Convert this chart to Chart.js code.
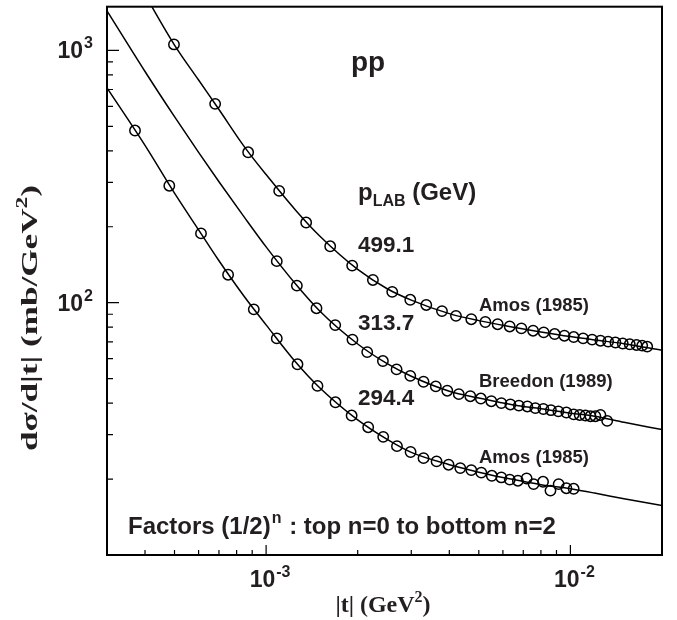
<!DOCTYPE html>
<html>
<head>
<meta charset="utf-8">
<script src="https://cdn.jsdelivr.net/npm/chart.js@4/dist/chart.umd.min.js"></script>
<style>
  html, body { margin: 0; padding: 0; background: #fff; }
</style>
</head>
<body>
<canvas id="myChart" width="677" height="620"></canvas>
<script>
// measured points, |t| in GeV^2 and dsigma/d|t| in mb/GeV^2 (already scaled by (1/2)^n)
var tAmos499 = [4.98e-4, 6.80e-4, 8.73e-4, 1.104e-3, 1.354e-3, 1.624e-3, 1.918e-3, 2.244e-3, 2.597e-3, 2.977e-3,
  3.360e-3, 3.784e-3, 4.207e-3, 4.724e-3, 5.253e-3, 5.767e-3, 6.317e-3, 6.902e-3, 7.541e-3, 8.171e-3,
  8.878e-3, 9.557e-3, 1.0254e-2, 1.1010e-2, 1.1788e-2, 1.2553e-2, 1.3305e-2, 1.4061e-2, 1.4859e-2, 1.5668e-2,
  1.6486e-2, 1.7214e-2, 1.7880e-2];
var dsAmos499 = [1056, 614, 394.6, 277.4, 207.8, 167.3, 140.3, 123.1, 110.4, 102.7,
  97.95, 92.6, 88.7, 86.0, 83.85, 82.2, 80.5, 79.1, 77.45, 76.3,
  75.1, 74.0, 73.1, 72.2, 71.4, 70.7, 70.1, 69.5, 68.9, 68.4,
  68.0, 67.6, 67.0];

var tBreedon = [1.084e-3, 1.262e-3, 1.464e-3, 1.687e-3, 1.922e-3, 2.149e-3, 2.420e-3, 2.684e-3, 2.977e-3, 3.291e-3,
  3.611e-3, 3.939e-3, 4.298e-3, 4.689e-3, 5.078e-3, 5.498e-3, 5.93e-3, 6.35e-3, 6.77e-3, 7.22e-3,
  7.67e-3, 8.15e-3, 8.63e-3, 9.13e-3, 9.70e-3, 1.025e-2, 1.073e-2, 1.120e-2, 1.164e-2, 1.208e-2,
  1.255e-2, 1.321e-2];
var dsBreedon = [146.1, 116.9, 95.1, 81.5, 71.4, 63.7, 58.7, 54.4, 51.3, 48.6,
  46.6, 44.8, 43.4, 42.6, 41.7, 40.7, 40.0, 39.5, 39.1, 38.8,
  38.2, 37.9, 37.5, 37.1, 36.7, 36.1, 35.9, 35.7, 35.5, 35.5,
  35.9, 34.0];

var tAmos294 = [3.708e-4, 4.807e-4, 6.11e-4, 7.50e-4, 9.11e-4, 1.084e-3, 1.268e-3, 1.475e-3, 1.690e-3, 1.910e-3,
  2.165e-3, 2.426e-3, 2.692e-3, 2.984e-3, 3.291e-3, 3.633e-3, 3.978e-3, 4.346e-3, 4.724e-3, 5.096e-3,
  5.518e-3, 5.93e-3, 6.32e-3, 6.72e-3, 7.18e-3, 7.57e-3, 8.13e-3, 8.60e-3, 9.15e-3, 9.70e-3,
  1.025e-2];
var dsAmos294 = [481.3, 290.9, 188.2, 129.1, 94.1, 72.2, 57.0, 46.8, 40.3, 35.7,
  32.1, 29.4, 27.0, 25.6, 24.2, 23.5, 22.8, 22.1, 21.7, 21.2,
  20.6, 20.3, 19.9, 19.7, 20.1, 19.1, 19.5, 18.0, 19.1, 18.4,
  18.3];

// fitted curves
var fitT = [3e-4, 4e-4, 5e-4, 6e-4, 7e-4, 8.5e-4, 1e-3, 1.25e-3, 1.5e-3, 2e-3,
  2.5e-3, 3e-3, 4e-3, 5e-3, 6.5e-3, 8e-3, 1e-2, 1.2e-2, 1.5e-2, 2e-2];
var fit499 = [3000, 1660, 1050, 763, 583, 413.7, 322, 232.7, 183.9, 135.5,
  113.6, 102.4, 90.5, 84.9, 80.0, 76.6, 73.4, 71.2, 68.8, 64.8];
var fit313 = [1435, 825, 546, 394, 301.5, 217.3, 166.4, 118.5, 92.7, 68.6,
  57.3, 51.1, 44.6, 41.9, 39.3, 38.0, 36.5, 35.5, 33.6, 31.4];
var fit294 = [710, 420, 271.6, 194.3, 146.6, 105.3, 81.7, 58.2, 46.0, 34.3,
  28.7, 25.5, 22.8, 21.3, 19.9, 19.0, 18.3, 17.6, 16.7, 15.7];

// axes
var xMajor = [1e-3, 1e-2];
var xMajorExp = ['-3', '-2'];
var xMinor = [4e-4, 5e-4, 6e-4, 7e-4, 8e-4, 9e-4, 2e-3, 3e-3, 4e-3, 5e-3, 6e-3, 7e-3, 8e-3, 9e-3];
var yMajor = [100, 1000];
var yMajorExp = ['2', '3'];
var yMinor = [20, 30, 40, 50, 60, 70, 80, 90, 200, 300, 400, 500, 600, 700, 800, 900];

var ink = '#231f20';
var sans = '"Liberation Sans", Arial, sans-serif';
var serif = '"Liberation Serif", "Times New Roman", serif';

function pairs(xs, ys) {
  return xs.map(function (x, i) { return { x: x, y: ys[i] }; });
}

function curve(ys) {
  return {
    data: pairs(fitT, ys),
    showLine: true,
    pointRadius: 0,
    borderColor: '#000',
    borderWidth: 1.5,
    cubicInterpolationMode: 'monotone'
  };
}

function markers(xs, ys) {
  return {
    data: pairs(xs, ys),
    showLine: false,
    pointStyle: 'circle',
    pointRadius: 5.2,
    pointBorderWidth: 1.5,
    pointBorderColor: '#000',
    pointBackgroundColor: 'rgba(0,0,0,0)'
  };
}

// "10" with a superscript exponent
function powLabel(ctx, exp, x, y, align) {
  ctx.font = 'bold 23px ' + sans;
  var w1 = ctx.measureText('10').width;
  ctx.font = 'bold 16px ' + sans;
  var w2 = ctx.measureText(exp).width;
  var total = w1 + 1 + w2;
  var x0 = align === 'right' ? x - total : x - total / 2;
  ctx.textAlign = 'left';
  ctx.font = 'bold 23px ' + sans;
  ctx.fillText('10', x0, y);
  ctx.font = 'bold 16px ' + sans;
  ctx.fillText(exp, x0 + w1 + 1, y - 10);
}

var overlay = {
  id: 'overlay',
  afterDraw: function (chart) {
    var ctx = chart.ctx, a = chart.chartArea;
    var xs = chart.scales.x, ys = chart.scales.y;
    ctx.save();

    // frame
    ctx.strokeStyle = '#000';
    ctx.lineWidth = 2;
    ctx.strokeRect(a.left, a.top, a.right - a.left, a.bottom - a.top);

    // inward ticks
    ctx.lineWidth = 1.2;
    ctx.beginPath();
    yMajor.forEach(function (v) { var p = ys.getPixelForValue(v); ctx.moveTo(a.left, p); ctx.lineTo(a.left + 12, p); });
    yMinor.forEach(function (v) { var p = ys.getPixelForValue(v); ctx.moveTo(a.left, p); ctx.lineTo(a.left + 6, p); });
    xMajor.forEach(function (v) { var p = xs.getPixelForValue(v); ctx.moveTo(p, a.bottom); ctx.lineTo(p, a.bottom - 10); });
    xMinor.forEach(function (v) { var p = xs.getPixelForValue(v); ctx.moveTo(p, a.bottom); ctx.lineTo(p, a.bottom - 5); });
    ctx.stroke();

    ctx.fillStyle = ink;
    ctx.textBaseline = 'alphabetic';

    // tick labels
    yMajor.forEach(function (v, i) { powLabel(ctx, yMajorExp[i], a.left - 14, ys.getPixelForValue(v) + 8, 'right'); });
    xMajor.forEach(function (v, i) { powLabel(ctx, xMajorExp[i], xs.getPixelForValue(v) + 4, a.bottom + 32, 'center'); });

    // x title
    ctx.font = 'bold 24px ' + serif;
    var tA = '|t| (GeV', tB = ')';
    var wA = ctx.measureText(tA).width, wB = ctx.measureText(tB).width;
    ctx.font = 'bold 16px ' + serif;
    var wS = ctx.measureText('2').width;
    var xt = 383 - (wA + wS + wB) / 2;
    ctx.textAlign = 'left';
    ctx.font = 'bold 24px ' + serif;
    ctx.fillText(tA, xt, 612);
    ctx.font = 'bold 16px ' + serif;
    ctx.fillText('2', xt + wA, 602);
    ctx.font = 'bold 24px ' + serif;
    ctx.fillText(tB, xt + wA + wS, 612);

    // y title (rotated)
    var yA = 'd\u03c3/d|t| (mb/GeV', yB = ')';
    ctx.font = 'bold 24px ' + serif;
    var vA = ctx.measureText(yA).width, vB = ctx.measureText(yB).width;
    ctx.font = 'bold 16px ' + serif;
    var vS = ctx.measureText('2').width;
    var len = vA + vS + vB;
    ctx.save();
    ctx.translate(37, 318);
    ctx.rotate(-Math.PI / 2);
    ctx.scale(266 / len, 1);
    ctx.font = 'bold 24px ' + serif;
    ctx.fillText(yA, -len / 2, 0);
    ctx.font = 'bold 16px ' + serif;
    ctx.fillText('2', -len / 2 + vA, -10);
    ctx.font = 'bold 24px ' + serif;
    ctx.fillText(yB, -len / 2 + vA + vS, 0);
    ctx.restore();

    // annotations
    ctx.textAlign = 'left';
    ctx.font = 'bold 28px ' + sans;
    ctx.fillText('pp', 351, 71);

    ctx.font = 'bold 24px ' + sans;
    ctx.fillText('p', 358, 200);
    var wp = ctx.measureText('p').width;
    ctx.font = 'bold 16px ' + sans;
    ctx.fillText('LAB', 358 + wp, 206);
    var wl = ctx.measureText('LAB').width;
    ctx.font = 'bold 24px ' + sans;
    ctx.fillText(' (GeV)', 358 + wp + wl, 200);

    ctx.font = 'bold 22.5px ' + sans;
    ctx.fillText('499.1', 358, 252);
    ctx.fillText('313.7', 358, 330);
    ctx.fillText('294.4', 358, 405);

    ctx.font = 'bold 18.5px ' + sans;
    ctx.fillText('Amos (1985)', 479, 311);
    ctx.fillText('Breedon (1989)', 479, 387);
    ctx.fillText('Amos (1985)', 479, 463);

    ctx.font = 'bold 24px ' + sans;
    var f1 = 'Factors (1/2)';
    ctx.fillText(f1, 128, 534);
    var wf = ctx.measureText(f1).width;
    ctx.font = 'bold 16px ' + sans;
    ctx.fillText('n', 128 + wf + 1, 523);
    var wn = ctx.measureText('n').width;
    ctx.font = 'bold 24px ' + sans;
    ctx.fillText(' : top n=0 to bottom n=2', 128 + wf + wn + 2, 534);

    ctx.restore();
  }
};

var ctx = document.getElementById('myChart').getContext('2d');
var chart = new Chart(ctx, {
  type: 'scatter',
  data: {
    datasets: [
      curve(fit499),
      curve(fit313),
      curve(fit294),
      markers(tAmos499, dsAmos499),
      markers(tBreedon, dsBreedon),
      markers(tAmos294, dsAmos294)
    ]
  },
  options: {
    responsive: false,
    animation: false,
    layout: { padding: { left: 107, right: 15, top: 1, bottom: 65 } },
    scales: {
      x: { type: 'logarithmic', min: 3e-4, max: 2e-2, display: false },
      y: { type: 'logarithmic', min: 10, max: 1490, display: false }
    },
    plugins: {
      legend: { display: false },
      tooltip: { enabled: false }
    }
  },
  plugins: [overlay]
});
</script>
</body>
</html>
